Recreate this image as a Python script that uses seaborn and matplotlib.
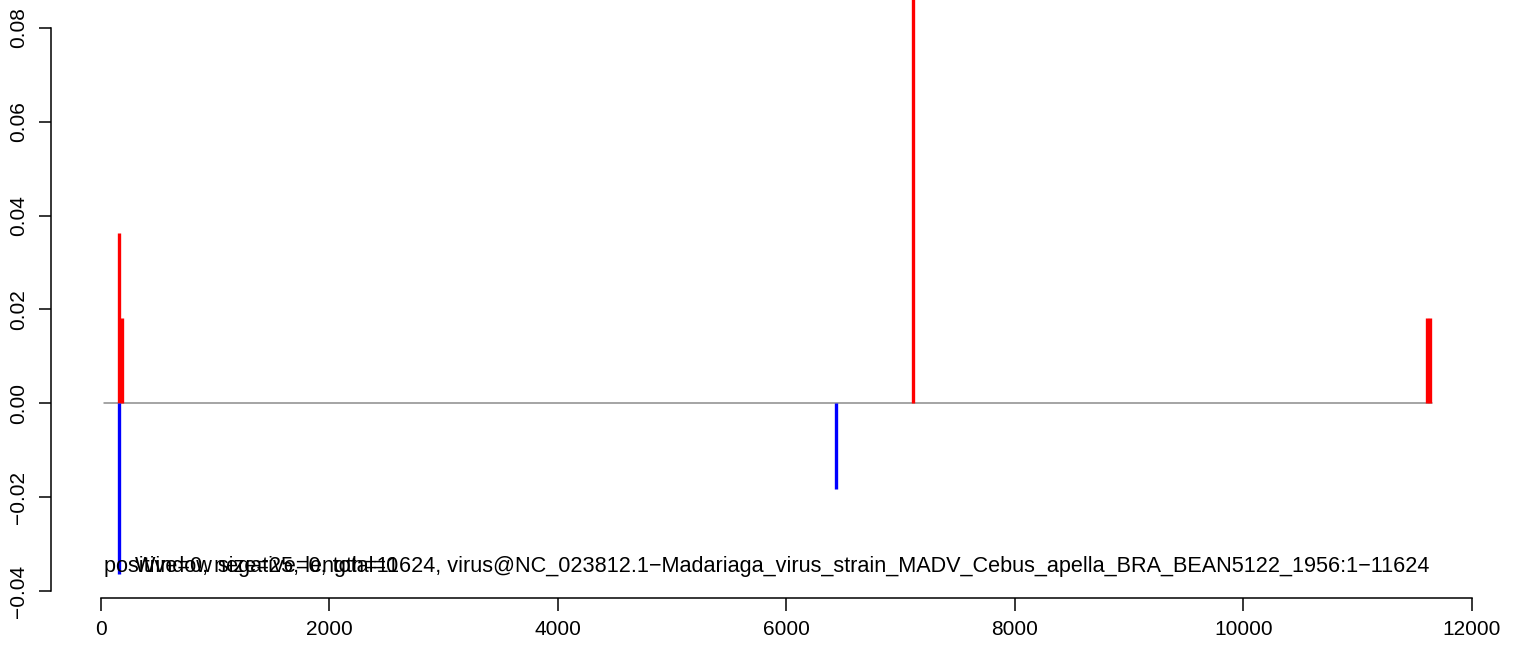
import matplotlib
matplotlib.use("Agg")
import matplotlib.pyplot as plt
import seaborn as sns
import pandas as pd

# positive (red) and negative (blue) peaks along the genome
pos_x = [163, 188, 7112, 11612, 11637]
pos_y = [0.0364, 0.0182, 0.0909, 0.0182, 0.0182]
neg_x = [163, 6438]
neg_y = [-0.0364, -0.0182]

# baseline span
base_x = [25, 11650]
base_y = [0.0, 0.0]

x_ticks = [0, 2000, 4000, 6000, 8000, 10000, 12000]
y_ticks = [-0.04, -0.02, 0.0, 0.02, 0.04, 0.06, 0.08]
y_labels = ["\u22120.04", "\u22120.02", "0.00", "0.02", "0.04", "0.06", "0.08"]

info_text = "positive=0, negative=0, total=0"
title_text = ("Window size=25, length=11624, "
              "virus@NC_023812.1\u2212Madariaga_virus_strain_MADV_Cebus_apella_BRA_BEAN5122_1956:1\u221211624")

sns.set_style("white")
plt.rcParams["font.family"] = ["Liberation Sans", "DejaVu Sans"]

W, H = 1533, 649
fig = plt.figure(figsize=(W / 100, H / 100), dpi=100)
# plot region (pixels): left 50.5, right 1482, bottom 598 from top, top above the image
ax = fig.add_axes([50.5 / W, (H - 598) / H, (1482 - 50.5) / W, (598 + 48) / H])

base = pd.DataFrame({"x": base_x, "y": base_y})
sns.lineplot(data=base, x="x", y="y", color="#8c8c8c", linewidth=1.1, ax=ax, zorder=1)

ax.vlines(pos_x, 0, pos_y, color="red", linewidth=2.4, zorder=2)
ax.vlines(neg_x, 0, neg_y, color="blue", linewidth=2.4, zorder=2)

ax.text(30, -0.0347, info_text, ha="left", va="center", fontsize=15.6, color="black")
ax.text(5963, -0.0347, title_text, ha="center", va="center", fontsize=15.6, color="black")

ax.set_xlim(-439, 12090)
ax.set_ylim(-0.0415, 0.0962)

ax.set_xticks(x_ticks)
ax.set_xticklabels([str(t) for t in x_ticks])
ax.set_yticks(y_ticks)
ax.set_yticklabels(y_labels, rotation=90, va="center")
ax.set_xlabel("")
ax.set_ylabel("")

for s in ["top", "right"]:
    ax.spines[s].set_visible(False)
ax.spines["left"].set_bounds(-0.04, 0.08)
ax.spines["bottom"].set_bounds(0, 12000)
for s in ["left", "bottom"]:
    ax.spines[s].set_color("black")
    ax.spines[s].set_linewidth(1.1)

ax.tick_params(axis="both", direction="out", length=9, width=1.1, color="black",
               labelsize=15, labelcolor="black", left=True, bottom=True)
ax.tick_params(axis="x", pad=7)
ax.tick_params(axis="y", pad=7)

fig.savefig("out.png", dpi=100)
